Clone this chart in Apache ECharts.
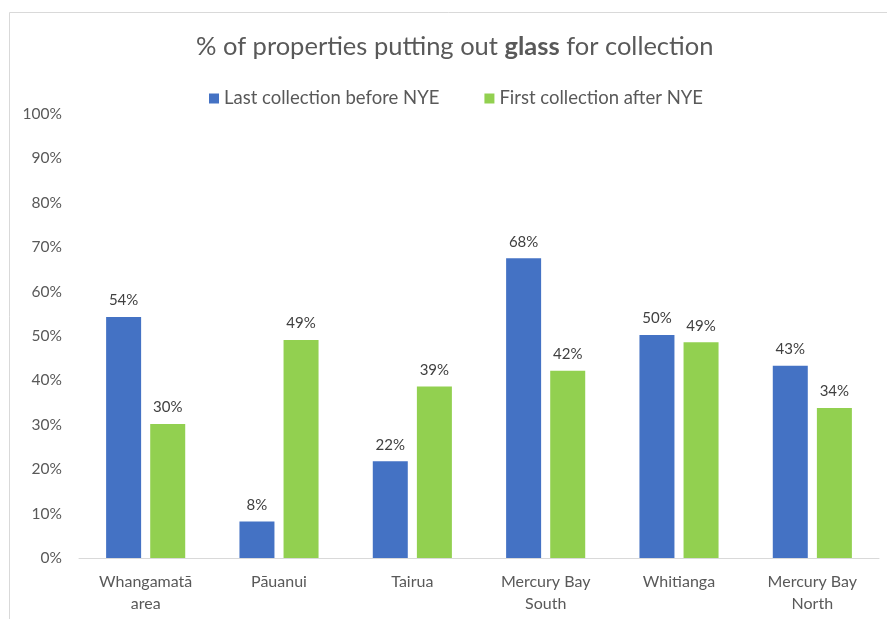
<!DOCTYPE html>
<html>
<head>
<meta charset="utf-8">
<script src="https://cdn.jsdelivr.net/npm/echarts@6/dist/echarts.min.js"></script>
<style>
  html, body { margin: 0; padding: 0; background: #fff; }
  #chart { width: 887px; height: 619px; }
</style>
</head>
<body>
<div id="chart"></div>
<script>
// data
const categories = ['Whangamatā\narea', 'Pāuanui', 'Tairua', 'Mercury Bay\nSouth', 'Whitianga', 'Mercury Bay\nNorth'];
const seriesNames = ['Last collection before NYE', 'First collection after NYE'];
const beforeNYE = [54.3, 8.2, 21.8, 67.5, 50.2, 43.3];
const afterNYE = [30.2, 49.1, 38.6, 42.2, 48.6, 33.8];

const font = 'Lato, "Open Sans", sans-serif';

const chart = echarts.init(document.getElementById('chart'), null, { renderer: 'canvas' });

const labelOpt = {
    show: true,
    position: 'top',
    distance: 9,
    color: '#404040',
    fontFamily: font,
    fontSize: 15,
    formatter: p => Math.round(p.value) + '%'
};

const option = {
    backgroundColor: '#fff',
    animation: false,
    textStyle: { fontFamily: font },
    graphic: [{
        type: 'rect',
        shape: { x: 9.5, y: 12.5, width: 900, height: 700 },
        style: { fill: 'none', stroke: '#d9d9d9', lineWidth: 1 },
        silent: true
    }],
    title: {
        text: '{n|% of properties putting out }{b|glass}{n| for collection}',
        left: 191,
        top: 29,
        textStyle: {
            rich: {
                n: { fontFamily: font, fontSize: 25.5, color: '#595959', fontWeight: 'normal' },
                b: { fontFamily: font, fontSize: 25.5, color: '#595959', fontWeight: 'bold' }
            }
        }
    },
    legend: {
        data: seriesNames,
        top: 84,
        left: 204,
        itemWidth: 10,
        itemHeight: 10,
        itemGap: 45,
        icon: 'rect',
        textStyle: { color: '#595959', fontSize: 18.5, fontFamily: font }
    },
    grid: { left: 79, right: 8, top: 114, bottom: 61 },
    xAxis: {
        type: 'category',
        data: categories,
        axisLine: { lineStyle: { color: '#d9d9d9' } },
        axisTick: { show: false },
        axisLabel: { color: '#595959', fontSize: 16, fontFamily: font, margin: 13, lineHeight: 22, interval: 0 }
    },
    yAxis: {
        type: 'value',
        min: 0,
        max: 100,
        interval: 10,
        axisLine: { show: false },
        axisTick: { show: false },
        splitLine: { show: false },
        axisLabel: { color: '#595959', fontSize: 15.5, fontFamily: font, margin: 17, formatter: '{value}%' }
    },
    series: [
        {
            name: seriesNames[0],
            type: 'bar',
            data: beforeNYE,
            barWidth: 35,
            barGap: '26%',
            itemStyle: { color: '#4472c4' },
            label: labelOpt
        },
        {
            name: seriesNames[1],
            type: 'bar',
            data: afterNYE,
            barWidth: 35,
            itemStyle: { color: '#92d050' },
            label: labelOpt
        }
    ]
};

chart.setOption(option);
window.addEventListener('resize', chart.resize);
</script>
</body>
</html>
